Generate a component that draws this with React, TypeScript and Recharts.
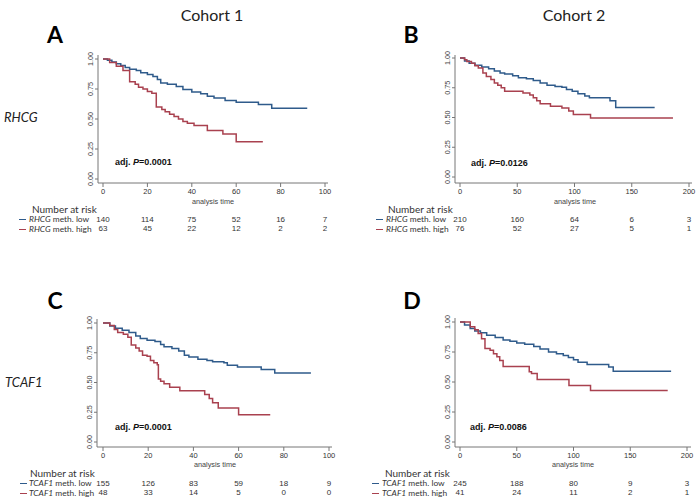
import React from 'react';
import { LineChart, Line, XAxis, YAxis } from 'recharts';

// survival steps: [time, survival]
const rhcgC1Low = [[0, 1], [2, 0.99], [4, 0.975], [6, 0.96], [8, 0.945], [10, 0.93], [12, 0.915], [15, 0.905], [17, 0.885], [20, 0.87], [22.5, 0.855], [24.5, 0.83], [26, 0.8], [29, 0.79], [33, 0.77], [36, 0.745], [40, 0.725], [44, 0.71], [47, 0.69], [50, 0.675], [55, 0.655], [60, 0.64], [70, 0.62], [76, 0.59], [92, 0.59]];
const rhcgC1High = [[0, 1], [3, 0.97], [6, 0.94], [9, 0.905], [12, 0.81], [14.5, 0.79], [16, 0.765], [18, 0.75], [20, 0.73], [22, 0.715], [24, 0.6], [26.5, 0.58], [28, 0.56], [30, 0.54], [32, 0.52], [34, 0.5], [36, 0.48], [38, 0.465], [41, 0.445], [47, 0.405], [54, 0.375], [60, 0.31], [72, 0.31]];
const rhcgC2Low = [[0, 1], [4, 0.975], [8, 0.955], [13, 0.94], [19, 0.925], [25, 0.91], [30, 0.89], [35, 0.875], [39, 0.865], [46, 0.85], [51, 0.835], [58, 0.825], [64, 0.81], [70, 0.79], [76, 0.77], [83, 0.76], [89, 0.755], [93, 0.735], [98, 0.72], [103, 0.7], [109, 0.68], [113, 0.665], [131, 0.64], [136, 0.585], [170, 0.585]];
const rhcgC2High = [[0, 1], [4, 0.985], [6, 0.97], [10, 0.955], [13, 0.935], [16, 0.915], [20, 0.875], [23, 0.845], [27, 0.82], [30, 0.79], [33, 0.77], [36, 0.75], [39, 0.72], [52, 0.72], [55, 0.705], [61, 0.69], [64, 0.665], [67, 0.64], [70, 0.615], [79, 0.595], [89, 0.58], [95, 0.555], [99, 0.525], [114, 0.495], [186, 0.495]];
const tcafC1Low = [[0, 1], [3, 0.975], [5.5, 0.955], [8.5, 0.94], [11.5, 0.92], [14.5, 0.89], [16.5, 0.87], [19.5, 0.855], [23, 0.845], [25.5, 0.82], [27, 0.8], [30.5, 0.785], [33.5, 0.765], [36, 0.73], [38, 0.715], [42, 0.695], [46, 0.685], [48.5, 0.675], [53.5, 0.665], [55, 0.645], [59.5, 0.63], [70, 0.61], [76, 0.58], [92, 0.58]];
const tcafC1High = [[0, 1], [3, 0.98], [5, 0.945], [6.5, 0.92], [9, 0.905], [11, 0.88], [12.5, 0.815], [14.5, 0.79], [16, 0.765], [17.5, 0.73], [19.5, 0.72], [21, 0.685], [22.5, 0.665], [24, 0.65], [24.5, 0.53], [25.5, 0.51], [27, 0.49], [29.5, 0.46], [34, 0.43], [45, 0.4], [47, 0.365], [48.5, 0.33], [51, 0.285], [60, 0.23], [74, 0.23]];
const tcafC2Low = [[0, 1], [4, 0.975], [9, 0.945], [13, 0.925], [18, 0.91], [23.5, 0.89], [31, 0.87], [38, 0.85], [44, 0.84], [50, 0.825], [57, 0.815], [65, 0.795], [70.5, 0.775], [78, 0.75], [85, 0.735], [91, 0.72], [95.5, 0.705], [100, 0.685], [104, 0.665], [112, 0.645], [131, 0.625], [135, 0.59], [186, 0.59]];
const tcafC2High = [[0, 1], [9, 0.96], [13, 0.935], [16, 0.905], [19, 0.86], [22, 0.78], [26.5, 0.765], [29.5, 0.735], [32.5, 0.71], [35, 0.68], [38, 0.63], [61, 0.585], [63, 0.57], [68, 0.52], [96, 0.47], [115, 0.43], [183, 0.43]];

// number at risk
const riskRhcgC1Low = [140, 114, 75, 52, 16, 7];
const riskRhcgC1High = [63, 45, 22, 12, 2, 2];
const riskRhcgC2Low = [210, 160, 64, 6, 3];
const riskRhcgC2High = [76, 52, 27, 5, 1];
const riskTcafC1Low = [155, 126, 83, 59, 18, 9];
const riskTcafC1High = [48, 33, 14, 5, 0, 0];
const riskTcafC2Low = [245, 188, 80, 9, 3];
const riskTcafC2High = [41, 24, 11, 2, 1];

const xTicksC1 = [0, 20, 40, 60, 80, 100];
const xTicksC2 = [0, 50, 100, 150, 200];
const yTicks = [0, 0.25, 0.5, 0.75, 1];

const BLUE = '#2f5b8b';
const RED = '#a9414f';
const AXIS = '#777';
const SANS = '"Liberation Sans", Arial, sans-serif';
const CAL = 'Lato, "Open Sans", sans-serif';

const toPts = (rows: number[][]) => rows.map(([t, s]) => ({ t, s }));

function YTick(props: any) {
  const { x, y, payload } = props;
  return (
    <text transform={`translate(${x},${y}) rotate(-90)`} textAnchor="middle" fontSize={7.3} fill="#444" fontFamily={SANS}>
      {payload.value.toFixed(2)}
    </text>
  );
}

function XTick(props: any) {
  const { x, y, payload, index, riskLow, riskHigh, dy1, dy2 } = props;
  return (
    <g fontFamily={SANS} textAnchor="middle">
      <text x={x} y={y + 5} fontSize={7.5} fill="#333">{payload.value}</text>
      <text x={x} y={y + dy1} fontSize={8} fill="#333">{riskLow[index]}</text>
      <text x={x} y={y + dy2} fontSize={8} fill="#333">{riskHigh[index]}</text>
    </g>
  );
}

function KMPanel(p: any) {
  const ML = 30, MT = 6, MR = 10, XH = 62;
  const low = toPts(p.low);
  const high = toPts(p.high);
  return (
    <div style={{ position: 'absolute', left: p.left - ML, top: p.top - MT }}>
      <LineChart width={ML + p.w + MR} height={MT + p.h + XH} margin={{ top: MT, right: MR, bottom: 0, left: 0 }}>
        <XAxis
          type="number"
          dataKey="t"
          domain={[0, p.xMax]}
          ticks={p.xTicks}
          interval={0}
          padding={p.padX}
          height={XH}
          stroke={AXIS}
          tickSize={4}
          tickMargin={2}
          tick={(tp: any) => <XTick {...tp} riskLow={p.riskLow} riskHigh={p.riskHigh} dy1={33} dy2={42} />}
        />
        <YAxis
          type="number"
          domain={[0, 1]}
          ticks={yTicks}
          interval={0}
          padding={p.padY}
          width={ML}
          stroke={AXIS}
          tickSize={3}
          tickMargin={2}
          tick={<YTick />}
        />
        <Line data={low} dataKey="s" type="stepAfter" stroke={BLUE} strokeWidth={1.5} dot={false} isAnimationActive={false} />
        <Line data={high} dataKey="s" type="stepAfter" stroke={RED} strokeWidth={1.5} dot={false} isAnimationActive={false} />
      </LineChart>
    </div>
  );
}

function T({ x, y, size, children, font = CAL, bold = false, italic = false, anchor = 'left', color = '#222' }: any) {
  const tx = anchor === 'center' ? '-50%' : '0';
  return (
    <div
      style={{
        position: 'absolute', left: x, top: y, transform: `translate(${tx},-50%)`,
        fontSize: size, fontFamily: font, fontWeight: bold ? 'bold' : 'normal',
        fontStyle: italic ? 'italic' : 'normal', color, whiteSpace: 'nowrap', lineHeight: 1,
      }}
    >
      {children}
    </div>
  );
}

function Legend({ x, y, lineX, gene }: any) {
  return (
    <>
      <div style={{ position: 'absolute', left: lineX, top: y, width: 7, height: 1.4, background: BLUE }} />
      <div style={{ position: 'absolute', left: lineX, top: y + 10, width: 7, height: 1.4, background: RED }} />
      <T x={x} y={y} size={8.4} color="#333"><i>{gene}</i> meth. low</T>
      <T x={x} y={y + 10} size={8.4} color="#333"><i>{gene}</i> meth. high</T>
    </>
  );
}

export default function App() {
  return (
    <div style={{ position: 'absolute', left: 0, top: 0, width: 700, height: 502, background: '#fff', overflow: 'hidden' }}>
      <T x={212} y={15} size={16} anchor="center">Cohort 1</T>
      <T x={574} y={15} size={16} anchor="center">Cohort 2</T>
      <T x={55} y={34} size={23} bold anchor="center" color="#000">A</T>
      <T x={411} y={34} size={23} bold anchor="center" color="#000">B</T>
      <T x={55} y={300} size={23} bold anchor="center" color="#000">C</T>
      <T x={412} y={300} size={23} bold anchor="center" color="#000">D</T>
      <T x={4} y={117} size={13} italic>RHCG</T>
      <T x={5} y={382} size={13} italic>TCAF1</T>

      <KMPanel left={98} top={55} w={230} h={128} xMax={100} xTicks={xTicksC1} padX={{ left: 5, right: 3 }} padY={{ top: 4, bottom: 4 }}
        low={rhcgC1Low} high={rhcgC1High} riskLow={riskRhcgC1Low} riskHigh={riskRhcgC1High} />
      <KMPanel left={455} top={55} w={237} h={128} xMax={200} xTicks={xTicksC2} padX={{ left: 5, right: 3 }} padY={{ top: 3, bottom: 6 }}
        low={rhcgC2Low} high={rhcgC2High} riskLow={riskRhcgC2Low} riskHigh={riskRhcgC2High} />
      <KMPanel left={97} top={319} w={235} h={128} xMax={100} xTicks={xTicksC1} padX={{ left: 6, right: 3 }} padY={{ top: 4, bottom: 5 }}
        low={tcafC1Low} high={tcafC1High} riskLow={riskTcafC1Low} riskHigh={riskTcafC1High} />
      <KMPanel left={455} top={318} w={236} h={129} xMax={200} xTicks={xTicksC2} padX={{ left: 5, right: 4 }} padY={{ top: 4, bottom: 5 }}
        low={tcafC2Low} high={tcafC2High} riskLow={riskTcafC2Low} riskHigh={riskTcafC2High} />

      <T x={115} y={162} size={9} font={SANS} bold color="#111">adj. <i>P</i>=0.0001</T>
      <T x={471} y={163} size={9} font={SANS} bold color="#111">adj. <i>P</i>=0.0126</T>
      <T x={115} y={427} size={9} font={SANS} bold color="#111">adj. <i>P</i>=0.0001</T>
      <T x={470} y={427} size={9} font={SANS} bold color="#111">adj. <i>P</i>=0.0086</T>

      <T x={213} y={201.5} size={7.3} font={SANS} anchor="center" color="#444">analysis time</T>
      <T x={575} y={201.5} size={7.3} font={SANS} anchor="center" color="#444">analysis time</T>
      <T x={215} y={465} size={7.3} font={SANS} anchor="center" color="#444">analysis time</T>
      <T x={573} y={465} size={7.3} font={SANS} anchor="center" color="#444">analysis time</T>

      <T x={32} y={209} size={10} color="#333">Number at risk</T>
      <T x={388} y={209} size={10} color="#333">Number at risk</T>
      <T x={30} y={472.5} size={10} color="#333">Number at risk</T>
      <T x={385} y={472.5} size={10} color="#333">Number at risk</T>

      <Legend x={29} y={219} lineX={19} gene="RHCG" />
      <Legend x={386} y={219} lineX={376} gene="RHCG" />
      <Legend x={29} y={483} lineX={20} gene="TCAF1" />
      <Legend x={382} y={483} lineX={372} gene="TCAF1" />
    </div>
  );
}
